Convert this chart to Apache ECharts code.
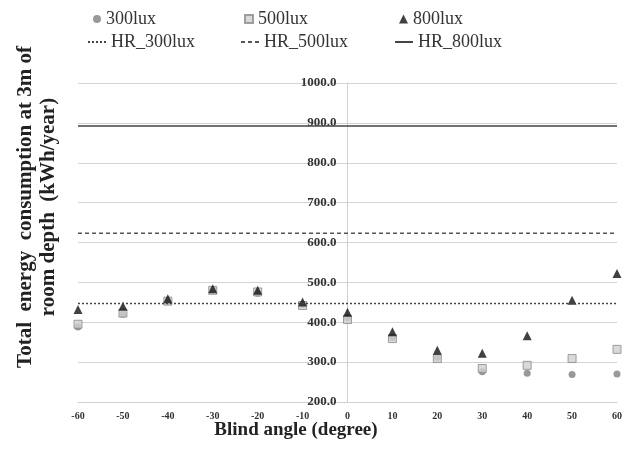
<!DOCTYPE html>
<html><head><meta charset="utf-8">
<script src="https://cdn.jsdelivr.net/npm/echarts@6/dist/echarts.min.js"></script>
<style>html,body{margin:0;padding:0;background:#fff}#c{width:626px;height:460px}</style>
</head><body><div id="c"></div>
<script>
const angles = [-60,-50,-40,-30,-20,-10,0,10,20,30,40,50,60];
const lux300 = [388,420,453,482,473,444,412,362,312,276,272,269,270];
const lux500 = [395,423,453,480,476,442,407,359,309,284,292,309,332];
const lux800 = [432,440,459,484,480,451,425,376,330,322,366,455,522];
const hr300 = 447;
const hr500 = 623;
const hr800 = 892;
const yTicks = [200,1000,100];
const xTicks = [-60,60,10];

const serif = "'Liberation Serif','DejaVu Serif',serif";
const chart = echarts.init(document.getElementById('c'));
function pair(a){return angles.map((x,i)=>[x,a[i]]);}
function hline(v){return [[xTicks[0],v],[xTicks[1],v]];}
function leg(name,left,top,w,h,isLine){
  const o = {data:[name],left:left,top:top,itemWidth:w,itemHeight:h,itemGap:5,
    textStyle:{fontFamily:serif,fontSize:18,color:'#333'},padding:0};
  if(isLine){o.itemStyle={color:'rgba(0,0,0,0)',borderWidth:0,opacity:0};}
  return o;
}
chart.setOption({
  animation:false,
  backgroundColor:'#fff',
  legend:[
    leg('300lux',93,10,8,8), leg('500lux',244,10,8,8), leg('800lux',399,10,9,9),
    leg('HR_300lux',87,33,18,8,true), leg('HR_500lux',240,33,18,8,true), leg('HR_800lux',394,33,18,8,true)
  ],
  grid:{left:78,right:9,top:83,bottom:58},
  xAxis:{type:'value',min:xTicks[0],max:xTicks[1],interval:xTicks[2],
    axisLine:{show:true,onZero:false,lineStyle:{color:'#d0d0d0'}},axisTick:{show:false},
    splitLine:{show:false},
    axisLabel:{fontFamily:serif,fontWeight:'bold',fontSize:10,color:'#333',margin:9}},
  yAxis:{type:'value',min:yTicks[0],max:yTicks[1],interval:yTicks[2],position:'left',offset:-269.5,
    axisLine:{show:true,onZero:false,lineStyle:{color:'#d0d0d0'}},axisTick:{show:false},
    splitLine:{lineStyle:{color:'#d4d4d4'}},
    axisLabel:{fontFamily:serif,fontWeight:'bold',fontSize:13,color:'#333',margin:11,
      formatter:v=>v.toFixed(1)}},
  graphic:[
    {type:'text',x:37,y:207,rotation:Math.PI/2,style:{text:'Total  energy  consumption at 3m of\nroom depth  (kWh/year)',
      font:'bold 21px '+serif,fill:'#222',align:'center',verticalAlign:'middle',lineHeight:23}},
    {type:'text',x:296,y:430,style:{text:'Blind angle (degree)',font:'bold 19px '+serif,fill:'#222',
      align:'center',verticalAlign:'middle'}}
  ],
  series:[
    {name:'HR_300lux',type:'line',data:hline(hr300),symbol:'none',silent:true,
      lineStyle:{color:'#444',width:1.5,type:[2,2]},itemStyle:{color:'#444'}},
    {name:'HR_500lux',type:'line',data:hline(hr500),symbol:'none',silent:true,
      lineStyle:{color:'#555',width:1.5,type:[4,3]},itemStyle:{color:'#555'}},
    {name:'HR_800lux',type:'line',data:hline(hr800),symbol:'none',silent:true,
      lineStyle:{color:'#444',width:1.5,type:'solid'},itemStyle:{color:'#444'}},
    {name:'300lux',type:'scatter',data:pair(lux300),symbol:'circle',symbolSize:7,
      itemStyle:{color:'#7f7f7f'}},
    {name:'500lux',type:'scatter',data:pair(lux500),symbol:'rect',symbolSize:8,
      itemStyle:{color:'#d0d0d0',borderColor:'#8a8a8a',borderWidth:1}},
    {name:'800lux',type:'scatter',data:pair(lux800),symbol:'triangle',symbolSize:9,
      itemStyle:{color:'#111'}}
  ]
});
</script></body></html>
